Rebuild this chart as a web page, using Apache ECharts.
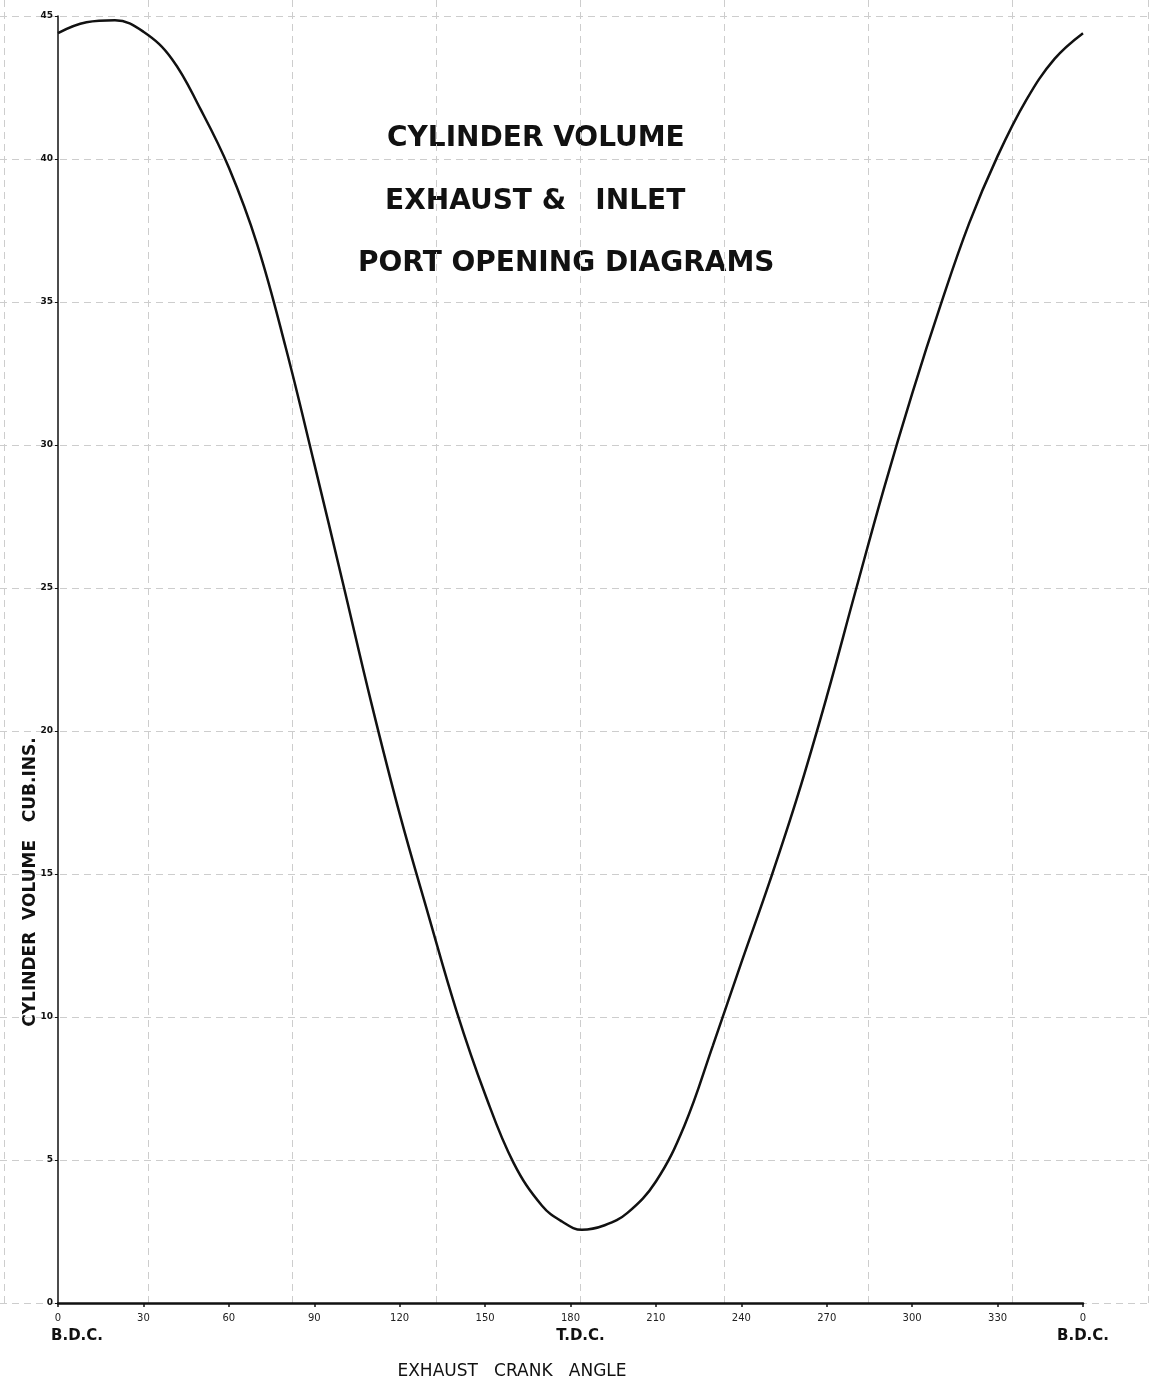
<!DOCTYPE html>
<html>
<head>
<meta charset="utf-8">
<script src="https://cdn.jsdelivr.net/npm/echarts@6/dist/echarts.min.js"></script>
<style>
  html, body { margin: 0; padding: 0; background: #ffffff; }
  #chart { width: 1152px; height: 1386px; }
</style>
</head>
<body>
<div id="chart"></div>
<script>
// ---- data ----
const crankAngles = [0, 10, 20, 30, 40, 50, 60, 70, 80, 90, 100, 110, 120, 130, 140, 150, 160, 170, 177, 184, 192, 200, 210, 220, 230, 240, 250, 260, 270, 280, 290, 300, 310, 320, 330, 340, 350, 360];
const cylinderVolumes = [44.4, 44.78, 44.85, 44.45, 43.5, 41.75, 39.7, 37.0, 33.4, 29.35, 25.2, 21.0, 17.1, 13.6, 10.2, 7.3, 4.9, 3.4, 2.85, 2.56, 2.72, 3.15, 4.25, 6.2, 9.0, 11.9, 14.75, 17.8, 21.2, 24.85, 28.45, 31.8, 34.9, 37.75, 40.1, 42.05, 43.5, 44.4];
const xTickValues = [0, 30, 60, 90, 120, 150, 180, 210, 240, 270, 300, 330, 360];
const xTickLabels = ['0', '30', '60', '90', '120', '150', '180', '210', '240', '270', '300', '330', '0'];
const deadCentreAngles = [0, 180, 360];
const deadCentreLabels = ['B.D.C.', 'T.D.C.', 'B.D.C.'];
const titleLines = ['CYLINDER VOLUME', 'EXHAUST &   INLET', 'PORT OPENING DIAGRAMS'];
const yAxisTitle = 'CYLINDER  VOLUME   CUB.INS.';
const xAxisTitle = 'EXHAUST   CRANK   ANGLE';

const chart = echarts.init(document.getElementById('chart'), null, { renderer: 'canvas' });

const gridPaperLine = { show: true, lineStyle: { color: '#cdcdcd', width: 1, type: [7, 5] } };

const option = {
  backgroundColor: '#ffffff',
  animation: false,
  grid: [
    { left: 58, right: 69, top: 16, bottom: 83 },          // main plot
    { left: 4, right: 4, top: 0, bottom: 83 },             // graph paper verticals
    { left: 0, right: 0, top: 16, bottom: 83 }             // graph paper horizontals
  ],
  xAxis: [
    {
      gridIndex: 0, type: 'value', min: 0, max: 360, interval: 30,
      axisLine: { show: true, onZero: false, lineStyle: { color: '#111', width: 2.5 } },
      axisTick: { show: true, length: 4, lineStyle: { color: '#111', width: 1.5 } },
      splitLine: { show: false },
      axisLabel: {
        margin: 8,
        color: '#222',
        formatter: function (v) {
          const i = xTickValues.indexOf(v);
          const lbl = i >= 0 ? xTickLabels[i] : '';
          const j = deadCentreAngles.indexOf(v);
          const sub = j >= 0 ? deadCentreLabels[j] : '';
          const style = j === 0 ? 's0' : (j === 1 ? 's1' : 's');
          return '{n|' + lbl + '}' + (sub ? '\n{' + style + '|' + sub + '}' : '');
        },
        rich: {
          n: { fontFamily: 'DejaVu Sans', fontSize: 10, color: '#222', lineHeight: 14 },
          s: { fontFamily: 'DejaVu Sans', fontSize: 15, color: '#111', lineHeight: 22, fontWeight: 'bold' },
          s0: { fontFamily: 'DejaVu Sans', fontSize: 15, color: '#111', lineHeight: 22, fontWeight: 'bold', padding: [0, 0, 0, 38] },
          s1: { fontFamily: 'DejaVu Sans', fontSize: 15, color: '#111', lineHeight: 22, fontWeight: 'bold', padding: [0, 0, 0, 20] }
        }
      }
    },
    {
      gridIndex: 1, type: 'value', min: 0, max: 7.944, interval: 1,
      axisLine: { show: false }, axisTick: { show: false }, axisLabel: { show: false },
      splitLine: gridPaperLine
    },
    {
      gridIndex: 2, type: 'value', min: 0, max: 1, show: false
    }
  ],
  yAxis: [
    {
      gridIndex: 0, type: 'value', min: 0, max: 45, interval: 5,
      axisLine: { show: true, onZero: false, lineStyle: { color: '#111', width: 1.5 } },
      axisTick: { show: true, length: 3, lineStyle: { color: '#111' } },
      splitLine: { show: false },
      axisLabel: { margin: 5, fontFamily: 'DejaVu Sans', fontSize: 9, fontWeight: 'bold', color: '#111' }
    },
    {
      gridIndex: 1, type: 'value', min: 0, max: 1, show: false
    },
    {
      gridIndex: 2, type: 'value', min: 0, max: 45, interval: 5,
      axisLine: { show: false }, axisTick: { show: false }, axisLabel: { show: false },
      splitLine: gridPaperLine
    }
  ],
  graphic: [
    { type: 'text', left: 387, top: 125, style: { text: titleLines[0], font: 'bold 28px "DejaVu Sans"', fill: '#111' } },
    { type: 'text', left: 385, top: 188, style: { text: titleLines[1], font: 'bold 28px "DejaVu Sans"', fill: '#111' } },
    { type: 'text', left: 358, top: 250, style: { text: titleLines[2], font: 'bold 28px "DejaVu Sans"', fill: '#111' } },
    {
      type: 'text', x: 31, y: 882, rotation: Math.PI / 2,
      style: { text: yAxisTitle, font: 'bold 17px "DejaVu Sans"', fill: '#111', align: 'center', verticalAlign: 'middle' }
    },
    {
      type: 'text', x: 512, y: 1372,
      style: { text: xAxisTitle, font: '17px "DejaVu Sans"', fill: '#111', align: 'center', verticalAlign: 'middle' }
    }
  ],
  series: [
    {
      type: 'line', xAxisIndex: 0, yAxisIndex: 0,
      data: crankAngles.map((a, i) => [a, cylinderVolumes[i]]),
      smooth: 0.4, showSymbol: false, symbol: 'none',
      lineStyle: { color: '#111', width: 2.5 },
      z: 5
    }
  ]
};

chart.setOption(option);
</script>
</body>
</html>
